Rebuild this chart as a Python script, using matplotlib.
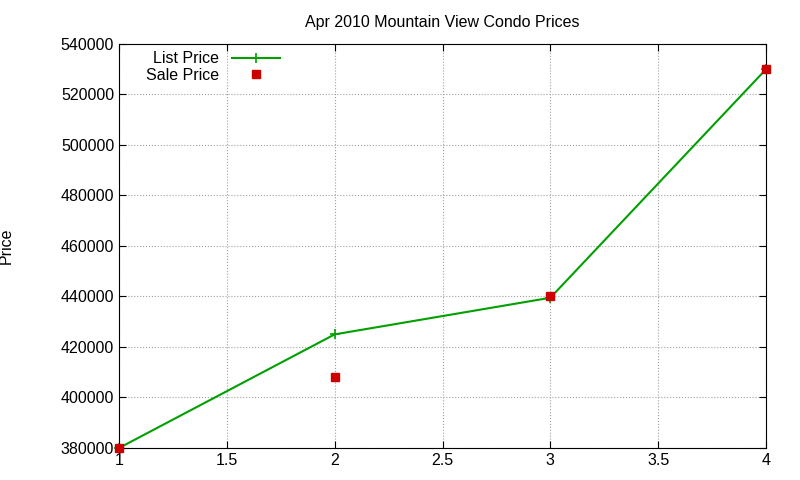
import matplotlib
matplotlib.use("Agg")
import matplotlib.pyplot as plt

plt.rcParams['font.family'] = ['Liberation Sans', 'DejaVu Sans']

x = [1, 2, 3, 4]
list_price = [380000, 425000, 439500, 530000]
sale_price = [380000, 408000, 440000, 530000]

fig = plt.figure(figsize=(8, 4.8), dpi=100)
ax = fig.add_axes([119/800, 1-448/480, (766-119)/800, (448-44)/480])
ax.plot(x, list_price, color='#00a000', lw=1.5, marker='+', ms=7, mew=1.2, label='List Price', clip_on=False)
ax.plot(x, sale_price, ls='none', marker='s', color='#cc0000', ms=6, label='Sale Price', zorder=3, clip_on=False)
ax.set_xlim(1, 4)
ax.set_ylim(380000, 540000)
ax.set_xticks([1, 1.5, 2, 2.5, 3, 3.5, 4])
ax.set_xticklabels(['1', '1.5', '2', '2.5', '3', '3.5', '4'])
ax.set_yticks(range(380000, 540001, 20000))
ax.grid(True, color='#a0a0a0', ls=':', lw=0.8)
ax.tick_params(labelsize=11.5, direction='in', length=5, top=True, right=True)
ax.set_title('Apr 2010 Mountain View Condo Prices', fontsize=11.5, pad=12)
ax.set_ylabel('Price', fontsize=11.5)
ax.yaxis.set_label_coords(-105/647, 0.5)
ax.legend(loc='upper left', bbox_to_anchor=(0.025, 1.01), markerfirst=False, frameon=False,
          fontsize=11.5, handlelength=3, borderaxespad=0.3, labelspacing=0.1)
fig.savefig('out.png', dpi=100)
